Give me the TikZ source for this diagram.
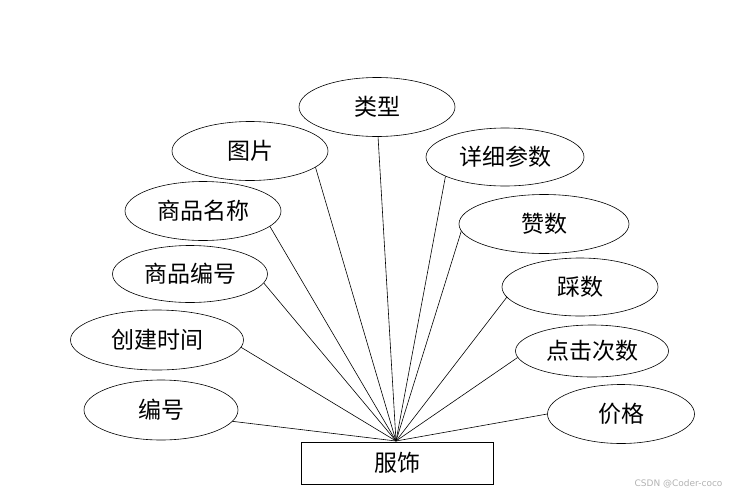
\documentclass[tikz,border=0pt]{standalone}
\usepackage{fontspec}
\newfontfamily\cjk{Noto Sans CJK SC}
\newfontfamily\wmfont{DejaVu Sans}
\usetikzlibrary{shapes.geometric}

\begin{document}
\begin{tikzpicture}[
   x=1pt,y=-1pt,
   attr/.style={ellipse,draw,line width=0.6pt,minimum width=156pt,minimum height=59pt,inner sep=0pt,font=\cjk\fontsize{23}{26}\selectfont},
   ent/.style={rectangle,draw,line width=0.6pt,minimum width=192pt,minimum height=42pt,inner sep=0pt,font=\cjk\fontsize{23}{26}\selectfont},
   link/.style={line width=0.6pt}]
  \useasboundingbox (0,0) rectangle (738,496);
  % entity
  \node[ent] (fs) at (397,463) {服饰};
  \coordinate (hub) at (396,441);
  % attributes, left side
  \node[attr] (lx) at (377,107) {类型};
  \node[attr] (tp) at (250,151) {图片};
  \node[attr] (mc) at (203,211) {商品名称};
  \node[attr,minimum width=155pt,minimum height=57pt] (bh) at (190,274) {商品编号};
  \node[attr,minimum width=173pt,minimum height=60pt] (sj) at (157,340) {创建时间};
  \node[attr,minimum width=154pt,minimum height=60pt] (id) at (161,410) {编号};
  % attributes, right side
  \node[attr,minimum width=158pt,minimum height=58pt] (cs) at (505,157) {详细参数};
  \node[attr,minimum width=170pt] (zs) at (544,224) {赞数};
  \node[attr,minimum width=156pt,minimum height=58pt] (cai) at (580,287) {踩数};
  \node[attr,minimum width=153pt,minimum height=52pt] (dj) at (592,351) {点击次数};
  \node[attr,minimum width=147pt] (jg) at (621,414) {价格};
  % links to the entity (start angle on each ellipse)
  \foreach \a/\ang in {lx/-88,tp/-14,mc/-13,bh/-7,sj/-5,id/-9,cs/198,zs/185,cai/188,dj/185,jg/180}
    \draw[link] (\a.\ang) -- (hub);
  % watermark
  \node[text=gray!60,font=\wmfont\fontsize{9}{11}\selectfont,anchor=east] (wm) at (726,484) {CSDN @Coder-coco};
\end{tikzpicture}
\end{document}
